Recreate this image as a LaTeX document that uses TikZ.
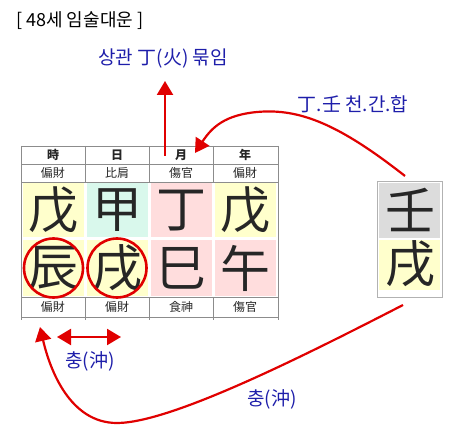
\documentclass[tikz,border=0pt]{standalone}
\usepackage{fontspec}
\setmainfont{Liberation Sans}
\newfontfamily\kr{Noto Sans CJK KR}
\usetikzlibrary{arrows.meta}
\definecolor{cyel}{HTML}{FFFFCC}
\definecolor{ccyan}{HTML}{D9F8EC}
\definecolor{cpink}{HTML}{FFDDDD}
\definecolor{cgray}{HTML}{DCDCDC}
\definecolor{cline}{HTML}{8C8C8C}
\definecolor{cblue}{HTML}{1E1EAA}
\definecolor{cred}{HTML}{E00000}
\tikzset{
  grid/.style={draw=cline, line width=0.8pt},
  big/.style={font=\kr\fontsize{50}{50}\selectfont, text=black!85, inner sep=0pt},
  small/.style={font=\kr\fontsize{12}{12}\selectfont, text=black!85, inner sep=0pt},
  hdr/.style={font=\kr\bfseries\fontsize{12}{12}\selectfont, text=black!85, inner sep=0pt},
  lbl/.style={font=\kr\fontsize{19}{19}\selectfont, text=cblue, inner sep=0pt},
  redarrow/.style={draw=cred, line width=2.2pt, -{Triangle[length=14pt,width=16pt]}},
  ring/.style={draw=cred, line width=2.6pt},
}
\begin{document}
\begin{tikzpicture}[x=1pt,y=-1pt]
\useasboundingbox (0,0) rectangle (461,441);
% cell fills
\fill[cyel]  (22.5,183.5) rectangle (83.5,237.5);
\fill[ccyan] (86.5,183.5) rectangle (147.5,237.5);
\fill[cpink] (150.5,183.5) rectangle (211.5,237.5);
\fill[cyel]  (214.5,183.5) rectangle (276,237.5);
\fill[cyel]  (22.5,240.5) rectangle (83.5,296);
\fill[cyel]  (86.5,240.5) rectangle (147.5,296);
\fill[cpink] (150.5,240.5) rectangle (211.5,296);
\fill[cpink] (214.5,240.5) rectangle (276,296);
% grid
\draw[grid] (21,146) -- (278,146) (21,164) -- (278,164) (21,182) -- (278,182)
  (21,297) -- (278,297) (21,317) -- (278,317);
\draw[grid] (21,146) -- (21,320) (278,146) -- (278,320);
\foreach \x in {85,149,213} {\draw[grid] (\x,146) -- (\x,182) (\x,297) -- (\x,320);}
% header
\node[hdr] (h1) at (53,155) {時};
\node[hdr] (h2) at (117,155) {日};
\node[hdr] (h3) at (181,155) {月};
\node[hdr] (h4) at (245,155) {年};
\node[small] (s1) at (53,173) {偏財};
\node[small] (s2) at (117,173) {比肩};
\node[small] (s3) at (181,173) {傷官};
\node[small] (s4) at (245,173) {偏財};
\node[big] (g1) at (53,210.5) {戊};
\node[big] (g2) at (117,210.5) {甲};
\node[big] (g3) at (181,210.5) {丁};
\node[big] (g4) at (245,210.5) {戊};
\node[big] (j1) at (53,268) {辰};
\node[big] (j2) at (117,268) {戌};
\node[big] (j3) at (181,268) {巳};
\node[big] (j4) at (245,268) {午};
\node[small] (b1) at (53,307) {偏財};
\node[small] (b2) at (117,307) {偏財};
\node[small] (b3) at (181,307) {食神};
\node[small] (b4) at (245,307) {傷官};
\draw[ring] (53.5,268) circle (29.5);
\draw[ring] (117,268) circle (29.5);
% daewoon box
\fill[cgray] (379,183) rectangle (440,238);
\fill[cyel] (379,240) rectangle (440,290);
\draw[draw=black!30, line width=0.8pt] (377,181) rectangle (442,297);
\node[big] (d1) at (410,210) {壬};
\node[big] (d2) at (410,264) {戌};
% texts
\node[font=\kr\fontsize{18}{18}\selectfont, text=black, inner sep=0pt, anchor=west] (title) at (16,21) {[ 48세 임술대운 ]};
\node[lbl] (l1) at (163,59) {상관 丁(火) 묶임};
\node[lbl] (l2) at (353,104) {丁.壬 천.간.합};
\node[lbl] (l3) at (90,361) {충(沖)};
\node[lbl] (l4) at (272,399) {충(沖)};
% arrows
\coordinate (a1s) at (165,156);
\coordinate (a1e) at (165,81);
\draw[redarrow] (a1s) -- (a1e);
\coordinate (a2s) at (405,176);
\coordinate (a2m) at (257,112);
\coordinate (a2e) at (195,153);
\draw[redarrow] (a2s) .. controls (340,125) and (300,108) .. (a2m) .. controls (225,115) and (212,127) .. (a2e);
\coordinate (a3s) at (403,305);
\coordinate (a3m) at (117,423);
\coordinate (a3e) at (40,327);
\draw[redarrow] (a3s) .. controls (300,358) and (170,423) .. (a3m) .. controls (70,423) and (50,370) .. (a3e);
\coordinate (a4s) at (57,337);
\coordinate (a4e) at (121,337);
\draw[draw=cred, line width=2.2pt, {Triangle[length=14pt,width=16pt]}-{Triangle[length=14pt,width=16pt]}] (a4s) -- (a4e);
\end{tikzpicture}
\end{document}
